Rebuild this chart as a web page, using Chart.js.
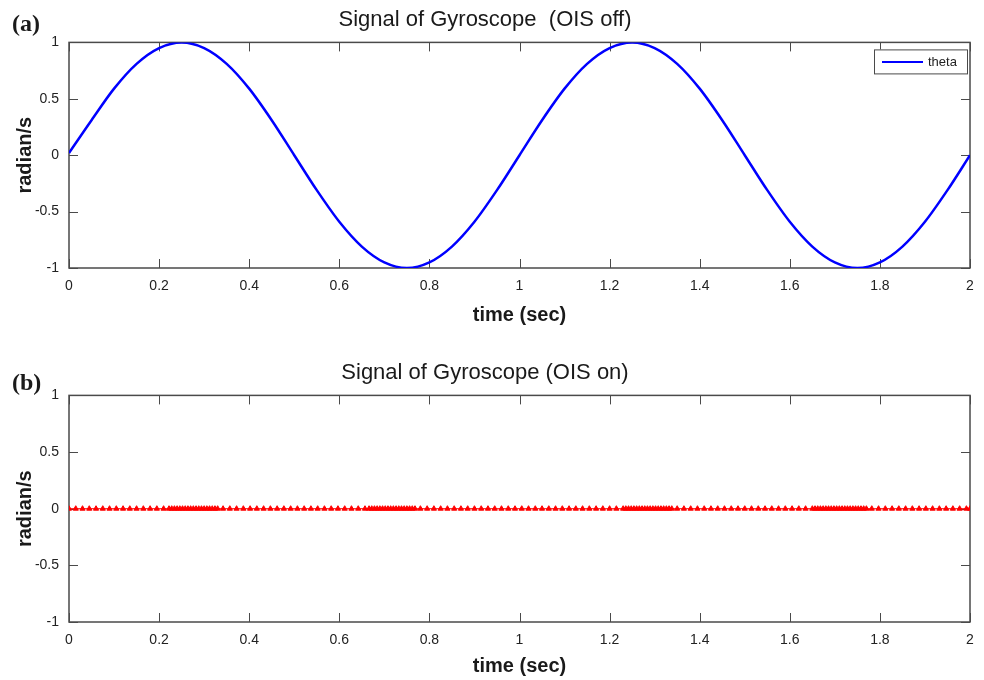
<!DOCTYPE html>
<html lang="en">
<head>
    <meta charset="UTF-8">
    <title>Signal of Gyroscope</title>
    <script src="https://cdn.jsdelivr.net/npm/chart.js"></script>
    <style>
        html, body { margin: 0; padding: 0; background: #fff; }
        .page { position: relative; width: 984px; height: 680px; }
        .panel { position: absolute; left: 0; width: 984px; height: 340px; }
        .tag {
            position: absolute; left: 12px;
            font: bold 24px "Liberation Serif", "DejaVu Serif", serif;
            color: #1a1a1a;
        }
    </style>
</head>
<body>
<div class="page">
    <div class="panel" style="top:0"><canvas id="offChart" width="984" height="340"></canvas></div>
    <div class="panel" style="top:340px"><canvas id="onChart" width="984" height="340"></canvas></div>
    <div class="tag" style="top:10px">(a)</div>
    <div class="tag" style="top:369px">(b)</div>
</div>

<script>
    // shared axes
    const xTicks = [0, 0.2, 0.4, 0.6, 0.8, 1, 1.2, 1.4, 1.6, 1.8, 2];
    const yTicks = [-1, -0.5, 0, 0.5, 1];

    // (a) OIS off - gyroscope signal
    const offTimes = [0, 0.05, 0.1, 0.15, 0.2, 0.25, 0.3, 0.35, 0.4, 0.45,
        0.5, 0.55, 0.6, 0.65, 0.7, 0.75, 0.8, 0.85, 0.9, 0.95,
        1, 1.05, 1.1, 1.15, 1.2, 1.25, 1.3, 1.35, 1.4, 1.45,
        1.5, 1.55, 1.6, 1.65, 1.7, 1.75, 1.8, 1.85, 1.9, 1.95, 2];
    const offTheta = [0.02, 0.31, 0.59, 0.81, 0.95, 1, 0.95, 0.81, 0.59, 0.31,
        0, -0.31, -0.59, -0.81, -0.95, -1, -0.95, -0.81, -0.59, -0.31,
        0, 0.31, 0.59, 0.81, 0.95, 1, 0.95, 0.81, 0.59, 0.31,
        0, -0.31, -0.59, -0.81, -0.95, -1, -0.95, -0.81, -0.59, -0.31, 0];

    // (b) OIS on - sample times (denser near the peaks) and residual signal
    const onTimes = [
        0, 0.015, 0.03, 0.045, 0.06, 0.075, 0.09, 0.105, 0.12, 0.135, 0.15, 0.165, 0.18, 0.195, 0.21, 0.222,
        0.228, 0.234, 0.24, 0.246, 0.252, 0.258, 0.264, 0.27, 0.276, 0.282, 0.288, 0.294, 0.3, 0.306, 0.312, 0.318, 0.324, 0.33,
        0.342, 0.357, 0.372, 0.387, 0.402, 0.417, 0.432, 0.447, 0.462, 0.477, 0.492, 0.507, 0.522, 0.537, 0.552, 0.567, 0.582, 0.597, 0.612, 0.627, 0.642, 0.657,
        0.666, 0.672, 0.678, 0.684, 0.69, 0.696, 0.702, 0.708, 0.714, 0.72, 0.726, 0.732, 0.738, 0.744, 0.75, 0.756, 0.762, 0.768,
        0.78, 0.795, 0.81, 0.825, 0.84, 0.855, 0.87, 0.885, 0.9, 0.915, 0.93, 0.945, 0.96, 0.975, 0.99, 1.005,
        1.02, 1.035, 1.05, 1.065, 1.08, 1.095, 1.11, 1.125, 1.14, 1.155, 1.17, 1.185, 1.2, 1.215, 1.23,
        1.236, 1.242, 1.248, 1.254, 1.26, 1.266, 1.272, 1.278, 1.284, 1.29, 1.296, 1.302, 1.308, 1.314, 1.32, 1.326, 1.332, 1.338,
        1.35, 1.365, 1.38, 1.395, 1.41, 1.425, 1.44, 1.455, 1.47, 1.485, 1.5, 1.515, 1.53, 1.545, 1.56, 1.575, 1.59, 1.605, 1.62, 1.635, 1.65,
        1.656, 1.662, 1.668, 1.674, 1.68, 1.686, 1.692, 1.698, 1.704, 1.71, 1.716, 1.722, 1.728, 1.734, 1.74, 1.746, 1.752, 1.758, 1.764, 1.77,
        1.782, 1.797, 1.812, 1.827, 1.842, 1.857, 1.872, 1.887, 1.902, 1.917, 1.932, 1.947, 1.962, 1.977, 1.992, 2
    ];
    const onTheta = [
        0, 0, 0, 0, 0, 0, 0, 0, 0, 0, 0, 0, 0, 0, 0, 0, 0, 0, 0, 0,
        0, 0, 0, 0, 0, 0, 0, 0, 0, 0, 0, 0, 0, 0, 0, 0, 0, 0, 0, 0,
        0, 0, 0, 0, 0, 0, 0, 0, 0, 0, 0, 0, 0, 0, 0, 0, 0, 0, 0, 0,
        0, 0, 0, 0, 0, 0, 0, 0, 0, 0, 0, 0, 0, 0, 0, 0, 0, 0, 0, 0,
        0, 0, 0, 0, 0, 0, 0, 0, 0, 0, 0, 0, 0, 0, 0, 0, 0, 0, 0, 0,
        0, 0, 0, 0, 0, 0, 0, 0, 0, 0, 0, 0, 0, 0, 0, 0, 0, 0, 0, 0,
        0, 0, 0, 0, 0, 0, 0, 0, 0, 0, 0, 0, 0, 0, 0, 0, 0, 0, 0, 0,
        0, 0, 0, 0, 0, 0, 0, 0, 0, 0, 0, 0, 0, 0, 0, 0, 0, 0, 0, 0,
        0, 0, 0, 0, 0, 0, 0, 0, 0, 0, 0, 0, 0, 0, 0, 0, 0, 0, 0, 0
    ];

    const SANS = '"Liberation Sans", Arial, sans-serif';
    const AXIS_COLOR = '#4a4a4a';
    const TICK_LEN = 9;

    // matlab style frame with inward ticks on all four sides
    const matlabFrame = {
        id: 'matlabFrame',
        beforeDatasetsDraw(chart) {
            const { ctx, chartArea: a, scales: { x, y } } = chart;
            ctx.save();
            ctx.strokeStyle = AXIS_COLOR;
            ctx.lineWidth = 1.5;
            ctx.strokeRect(a.left, a.top, a.right - a.left, a.bottom - a.top);
            ctx.beginPath();
            x.ticks.forEach(t => {
                const px = Math.round(x.getPixelForValue(t.value)) + 0.5;
                ctx.moveTo(px, a.bottom); ctx.lineTo(px, a.bottom - TICK_LEN);
                ctx.moveTo(px, a.top); ctx.lineTo(px, a.top + TICK_LEN);
            });
            y.ticks.forEach(t => {
                const py = Math.round(y.getPixelForValue(t.value)) + 0.5;
                ctx.moveTo(a.left, py); ctx.lineTo(a.left + TICK_LEN, py);
                ctx.moveTo(a.right, py); ctx.lineTo(a.right - TICK_LEN, py);
            });
            ctx.lineWidth = 1;
            ctx.stroke();
            ctx.restore();
        }
    };

    // small boxed legend in the upper right corner of the plot
    const cornerLegend = {
        id: 'cornerLegend',
        afterDraw(chart) {
            const ds = chart.data.datasets[0];
            const { ctx, chartArea: a } = chart;
            const w = 93, h = 24;
            const left = a.right - 3 - w, top = a.top + 7;
            ctx.save();
            ctx.fillStyle = '#fff';
            ctx.fillRect(left, top, w, h);
            ctx.strokeStyle = AXIS_COLOR;
            ctx.lineWidth = 1;
            ctx.strokeRect(left + 0.5, top + 0.5, w, h);
            ctx.strokeStyle = ds.borderColor;
            ctx.lineWidth = 2;
            ctx.beginPath();
            ctx.moveTo(left + 8, top + 12.5);
            ctx.lineTo(left + 49, top + 12.5);
            ctx.stroke();
            ctx.fillStyle = '#222';
            ctx.font = '13px ' + SANS;
            ctx.textBaseline = 'middle';
            ctx.fillText(ds.label, left + 54, top + 13);
            ctx.restore();
        }
    };

    function makeOptions(titleText, titlePad, xTitlePad, xHeight) {
        return {
            responsive: false,
            animation: false,
            layout: { padding: { right: 14 } },
            plugins: {
                legend: { display: false },
                tooltip: { enabled: false },
                title: {
                    display: true,
                    text: titleText,
                    color: '#1a1a1a',
                    font: { family: SANS, size: 22, weight: 'normal' },
                    padding: titlePad
                }
            },
            scales: {
                x: {
                    type: 'linear',
                    min: 0, max: 2,
                    afterBuildTicks: s => { s.ticks = xTicks.map(v => ({ value: v })); },
                    afterFit: s => { s.height = xHeight; },
                    grid: { display: false, drawTicks: false },
                    border: { display: false },
                    ticks: {
                        padding: 10,
                        color: '#222',
                        font: { family: SANS, size: 14 },
                        maxRotation: 0,
                        callback: v => String(v)
                    },
                    title: {
                        display: true,
                        text: 'time (sec)',
                        color: '#1a1a1a',
                        font: { family: SANS, size: 20, weight: 'bold' },
                        padding: { top: 0, bottom: xTitlePad }
                    }
                },
                y: {
                    min: -1, max: 1,
                    afterBuildTicks: s => { s.ticks = yTicks.map(v => ({ value: v })); },
                    afterFit: s => { s.width = 69; },
                    grid: { display: false, drawTicks: false },
                    border: { display: false },
                    ticks: {
                        padding: 10,
                        color: '#222',
                        font: { family: SANS, size: 14 },
                        callback: v => String(v)
                    },
                    title: {
                        display: true,
                        text: 'radian/s',
                        color: '#1a1a1a',
                        font: { family: SANS, size: 20, weight: 'bold' },
                        padding: { top: 13, bottom: 0 }
                    }
                }
            }
        };
    }

    new Chart(document.getElementById('offChart'), {
        type: 'line',
        data: {
            datasets: [{
                label: 'theta',
                data: offTimes.map((t, i) => ({ x: t, y: offTheta[i] })),
                borderColor: '#0000ff',
                borderWidth: 2.5,
                pointRadius: 0,
                cubicInterpolationMode: 'monotone',
                fill: false
            }]
        },
        options: makeOptions('Signal of Gyroscope  (OIS off)', { top: 7, bottom: 9 }, 13, 72),
        plugins: [matlabFrame, cornerLegend]
    });

    new Chart(document.getElementById('onChart'), {
        type: 'line',
        data: {
            datasets: [{
                label: 'theta',
                data: onTimes.map((t, i) => ({ x: t, y: onTheta[i] })),
                borderColor: '#ff0000',
                backgroundColor: '#ff0000',
                borderWidth: 1,
                pointStyle: 'triangle',
                pointRadius: 3,
                pointBorderWidth: 1,
                fill: false
            }]
        },
        options: makeOptions('Signal of Gyroscope (OIS on)', { top: 20, bottom: 9 }, 2, 58),
        plugins: [matlabFrame]
    });
</script>
</body>
</html>
